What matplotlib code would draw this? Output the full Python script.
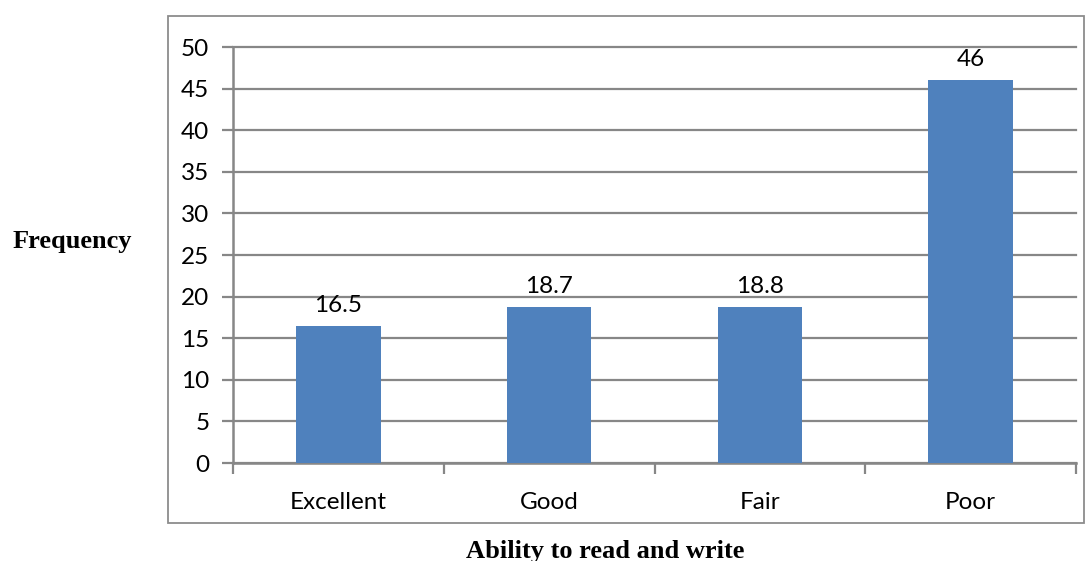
import matplotlib
matplotlib.use('Agg')
import matplotlib.pyplot as plt
from matplotlib.patches import Rectangle
import numpy as np

categories = ['Excellent', 'Good', 'Fair', 'Poor']
frequency = [16.5, 18.7, 18.8, 46]
value_labels = ['16.5', '18.7', '18.8', '46']
y_ticks = [0, 5, 10, 15, 20, 25, 30, 35, 40, 45, 50]

bar_color = '#4F81BD'
line_gray = '#878787'

fig = plt.figure(figsize=(10.86, 5.61), dpi=100)
W, H = 1086.0, 561.0

# chart frame around the plot
fig.patches.append(Rectangle((168 / W, 1 - 523 / H), (1084 - 168) / W, (523 - 16) / H,
                             transform=fig.transFigure, fill=False,
                             edgecolor='#8c8c8c', linewidth=1.3))

ax = fig.add_axes([233 / W, 1 - 463 / H, (1076 - 233) / W, (463 - 47) / H])
x = np.arange(len(categories))
ax.bar(x, frequency, width=0.4, color=bar_color, zorder=3)

ax.set_xlim(-0.5, len(categories) - 0.5)
ax.set_ylim(0, 50)
ax.set_yticks(y_ticks)
ax.set_yticklabels([str(t) for t in y_ticks], fontfamily='Lato', fontsize=17.5)
ax.yaxis.grid(True, color=line_gray, linewidth=1.6, zorder=0)
for gl in ax.get_ygridlines():
    gl.set_clip_on(False)
ax.set_axisbelow(True)

ax.set_xticks(x)
ax.set_xticklabels(categories, fontfamily='Lato', fontsize=17.5)
ax.set_xticks(np.arange(len(categories) + 1) - 0.5, minor=True)
ax.tick_params(axis='x', which='major', length=0, pad=21)
ax.tick_params(axis='x', which='minor', length=8, width=1.6, color=line_gray, direction='out')
ax.tick_params(axis='y', length=8, width=1.6, color=line_gray, pad=9)

for side in ['top', 'right']:
    ax.spines[side].set_visible(False)
for side in ['left', 'bottom']:
    ax.spines[side].set_color(line_gray)
    ax.spines[side].set_linewidth(1.8)

for xi, v, lab in zip(x, frequency, value_labels):
    ax.annotate(lab, (xi, v), xytext=(0, 10), textcoords='offset pixels',
                ha='center', va='bottom', fontfamily='Lato', fontsize=17.5)

fig.text(72 / W, 1 - 248 / H, 'Frequency', ha='center', va='baseline',
         fontfamily='Liberation Serif', fontweight='bold', fontsize=19)
fig.text(605 / W, 1 - 558 / H, 'Ability to read and write', ha='center', va='baseline',
         fontfamily='Liberation Serif', fontweight='bold', fontsize=19)

fig.savefig('out.png', dpi=100)
